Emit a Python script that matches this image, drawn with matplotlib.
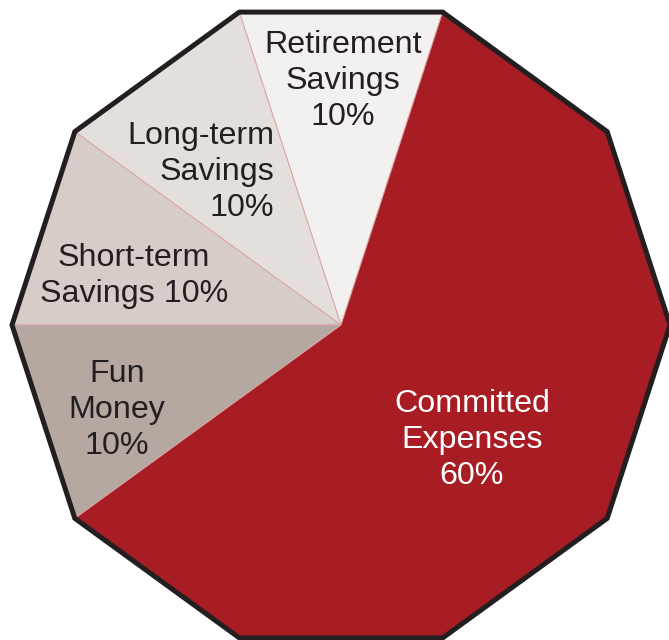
import numpy as np
import matplotlib
matplotlib.use("Agg")
import matplotlib.pyplot as plt
from matplotlib.patches import RegularPolygon

labels = ["Retirement\nSavings\n10%", "Long-term\nSavings\n10%", "Short-term\nSavings 10%",
          "Fun\nMoney\n10%", "Committed\nExpenses\n60%"]
values = [10, 10, 10, 10, 60]
colors = ["#F3F1F0", "#E4DFDB", "#D7CDC8", "#B5A8A1", "#A81D23"]
text_colors = ["#231F20", "#231F20", "#231F20", "#231F20", "#FFFFFF"]

W, H = 669, 640
fig = plt.figure(figsize=(W / 100, H / 100), dpi=100)
ax = fig.add_axes([0, 0, 1, 1])

cx, cy, R = 341, 640 - 325, 329

wedges, _ = ax.pie(values, startangle=72, counterclock=True, colors=colors,
                   radius=R * 1.15, center=(cx, cy), frame=True,
                   wedgeprops=dict(linewidth=0.7, edgecolor="#D9A7A5"))
ax.set_xlim(0, W)
ax.set_ylim(0, H)
ax.set_aspect("equal")
ax.axis("off")

clip = RegularPolygon((cx, cy), 10, radius=R, orientation=np.pi / 10,
                      transform=ax.transData, facecolor="none", edgecolor="none")
ax.add_patch(clip)
for w in wedges:
    w.set_clip_on(True)
    w.set_clip_path(clip)

outline = RegularPolygon((cx, cy), 10, radius=R, orientation=np.pi / 10,
                         facecolor="none", edgecolor="#231F20", linewidth=3.6,
                         joinstyle="miter", zorder=5)
ax.add_patch(outline)

pos = [(343, 81, "center"), (274, 172, "right"), (134, 276, "center"),
       (117, 410, "center"), (472, 440, "center")]
for lab, (x, y, al), tc in zip(labels, pos, text_colors):
    ha = "right" if al == "right" else "center"
    ax.text(x, H - y, lab, ha=ha, va="center", multialignment=al,
            fontsize=23.2, family=["Liberation Sans", "DejaVu Sans"], color=tc,
            linespacing=1.28, zorder=6)

fig.savefig("out.png", dpi=100)
